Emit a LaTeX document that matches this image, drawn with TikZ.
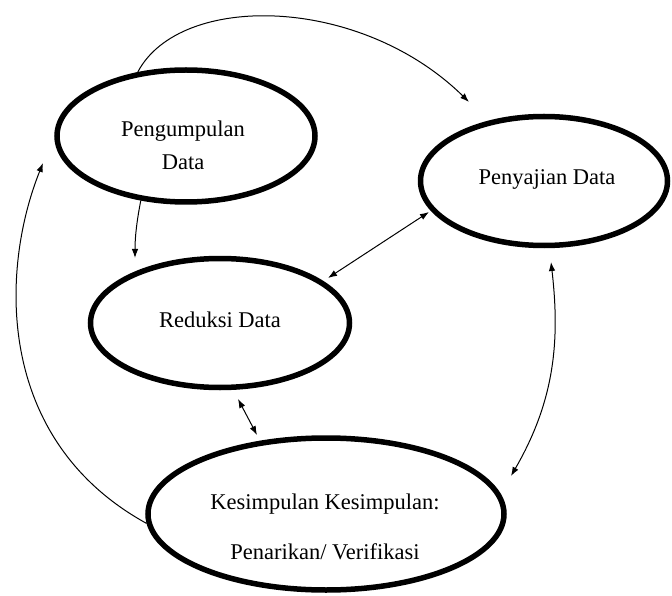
\documentclass[tikz,border=0pt]{standalone}
\usepackage{fontspec}
\setmainfont{Liberation Serif}
\usetikzlibrary{shapes.geometric,arrows.meta}
\begin{document}
\begin{tikzpicture}[x=1pt,y=-1pt,
  oval/.style={draw, line width=5.5pt, ellipse, inner sep=0pt},
  lbl/.style={font=\fontsize{22.5}{27}\selectfont, anchor=base, inner sep=0pt},
  conn/.style={line width=1pt},
  arrend/.style={conn, -{Latex[length=9pt,width=6.5pt]}},
  arrboth/.style={conn, {Latex[length=9pt,width=6.5pt]}-{Latex[length=9pt,width=6.5pt]}}
]
\useasboundingbox[fill=white] (0,0) rectangle (672,596);

% ellipses
\node[oval, minimum width=258pt, minimum height=132pt] (A) at (186,136) {};
\node[oval, minimum width=247pt, minimum height=129pt] (B) at (544,181) {};
\node[oval, minimum width=259pt, minimum height=129pt] (C) at (220,323) {};
\node[oval, minimum width=356pt, minimum height=152pt] (D) at (326,514) {};

% labels
\node[lbl] (A1) at (183,137) {Pengumpulan};
\node[lbl] (A2) at (183,170) {Data};
\node[lbl] (B1) at (547,185) {Penyajian Data};
\node[lbl] (C1) at (220,327) {Reduksi Data};
\node[lbl] (D1) at (325,509) {Kesimpulan Kesimpulan:};
\node[lbl] (D2) at (325,559) {Penarikan/ Verifikasi};

% free arrow ends
\coordinate (t1) at (469,102);
\coordinate (t2) at (135,258);
\coordinate (t3a) at (328,278);
\coordinate (t3b) at (429,212);
\coordinate (t4a) at (238,399);
\coordinate (t4b) at (257,435);
\coordinate (t5) at (43,163);
\coordinate (t6a) at (551,262);
\coordinate (t6b) at (511,476);

% connectors
\draw[arrend] (A.127) .. controls (180,-8) and (360,-5) .. (t1);
\draw[arrend] (A.235) .. controls (136,225) and (135,240) .. (t2);
\draw[arrboth] (t3a) -- (t3b);
\draw[arrboth] (t4a) -- (t4b);
\draw[arrend] (D.183) .. controls (-5,440) and (0,270) .. (t5);
\draw[arrboth] (t6a) .. controls (560,340) and (555,400) .. (t6b);
\end{tikzpicture}
\end{document}
